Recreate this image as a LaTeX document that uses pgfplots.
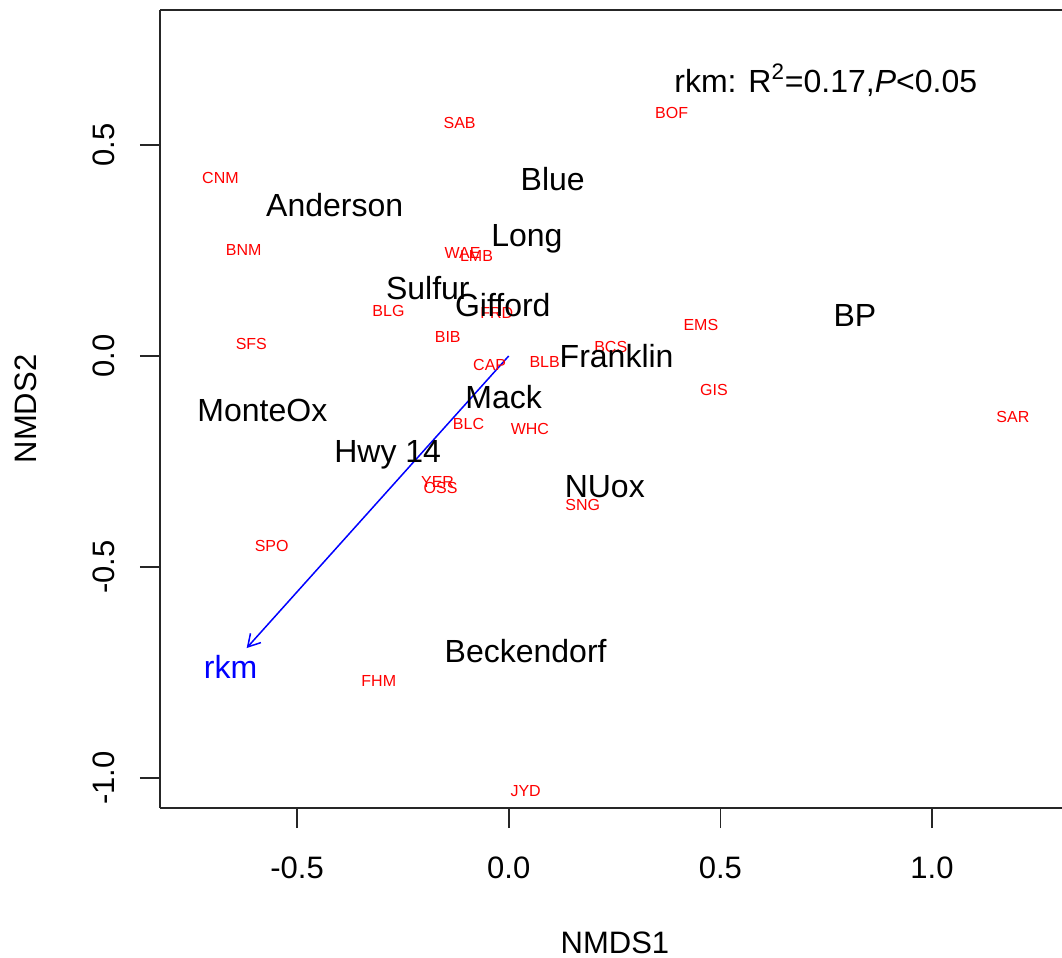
\documentclass[border=0pt]{standalone}
\usepackage{pgfplots}
\pgfplotsset{compat=1.18}
\usepackage{pgfplotstable}
\usepackage{fontspec}
\setmainfont{Liberation Sans}
\usetikzlibrary{arrows.meta}

% site scores (black)
\pgfplotstableread[col sep=comma]{
x,y,label
-0.411,0.358,Anderson
0.104,0.419,Blue
0.043,0.277,Long
-0.191,0.161,Sulfur
-0.014,0.121,Gifford
0.255,0.000,Franklin
0.818,0.095,BP
-0.582,-0.128,MonteOx
-0.012,-0.097,Mack
-0.286,-0.235,Hwy 14
0.227,-0.310,NUox
0.040,-0.699,Beckendorf
}\sites

% species scores (red)
\pgfplotstableread[col sep=comma]{
x,y,label
-0.116,0.552,SAB
0.385,0.576,BOF
-0.681,0.422,CNM
-0.626,0.251,BNM
-0.109,0.244,WAE
-0.076,0.237,LMB
-0.284,0.107,BLG
-0.028,0.102,FRD
-0.144,0.045,BIB
-0.608,0.028,SFS
-0.045,-0.021,CAP
0.085,-0.014,BLB
0.241,0.021,BCS
0.454,0.073,EMS
0.485,-0.081,GIS
1.191,-0.145,SAR
-0.095,-0.161,BLC
0.050,-0.173,WHC
-0.168,-0.299,YER
-0.161,-0.313,OSS
0.175,-0.353,SNG
-0.560,-0.450,SPO
-0.307,-0.770,FHM
0.040,-1.031,JYD
}\species

\begin{document}
\begin{tikzpicture}
\begin{axis}[
  scale only axis,
  width=451pt, height=399pt,
  xmin=-0.8238, xmax=1.3071,
  ymin=-1.0711, ymax=0.8199,
  clip=false,
  separate axis lines,
  axis x line=box, axis y line=left,
  axis line style={-, line width=0.8pt, black!85},
  xtick={-0.5,0,0.5,1.0},
  ytick={-1.0,-0.5,0,0.5},
  xtick pos=bottom, ytick pos=left,
  tick align=outside,
  major tick length=10pt,
  tick style={line width=0.8pt, black!85},
  /pgf/number format/assume math mode=true,
  /pgf/number format/.cd, fixed, fixed zerofill, precision=1, /pgfplots/.cd,
  tick label style={font=\fontsize{15.5}{18}\selectfont},
  xticklabel style={anchor=center, yshift=-20pt},
  yticklabel style={rotate=90, anchor=center, yshift=18.2pt},
  xlabel={NMDS1}, ylabel={NMDS2},
  label style={font=\fontsize{15.5}{18}\selectfont},
  xlabel style={at={(axis description cs:0.5044,0)}, anchor=center, yshift=-67.5pt},
  ylabel style={at={(axis description cs:0,0.5)}, anchor=center, yshift=67pt},
]

% fitted vector for rkm
\addplot[blue, line width=0.75pt, -{Straight Barb[length=6pt,width=7pt]}]
  coordinates {(0,0) (-0.619,-0.692)};
\addplot[draw=none, mark=none, nodes near coords, point meta=explicit symbolic,
  nodes near coords align=center,
  every node near coord/.append style={text=blue, inner sep=0pt, font=\fontsize{16}{18}\selectfont}]
  coordinates {(-0.657,-0.737) [rkm]};

\addplot[draw=none, mark=none, nodes near coords, point meta=explicit symbolic,
  nodes near coords align=center,
  every node near coord/.append style={text=red, inner sep=0pt, font=\fontsize{8}{9}\selectfont}]
  table[x=x, y=y, meta=label] {\species};

\addplot[draw=none, mark=none, nodes near coords, point meta=explicit symbolic,
  nodes near coords align=center,
  every node near coord/.append style={text=black, inner sep=0pt, font=\fontsize{16}{18}\selectfont}]
  table[x=x, y=y, meta=label] {\sites};

\node[anchor=center, inner sep=0pt, font=\fontsize{16}{18}\selectfont]
  at (axis cs:0.749,0.654) {rkm: R\textsuperscript{2}=0.17,\textit{P}<0.05};

\coordinate (bbll) at (axis cs:-1.2018,-1.4265);
\coordinate (bbur) at (axis cs:1.3071,0.8436);
\end{axis}
\pgfresetboundingbox
\path (bbll) rectangle (bbur);
\end{tikzpicture}
\end{document}
